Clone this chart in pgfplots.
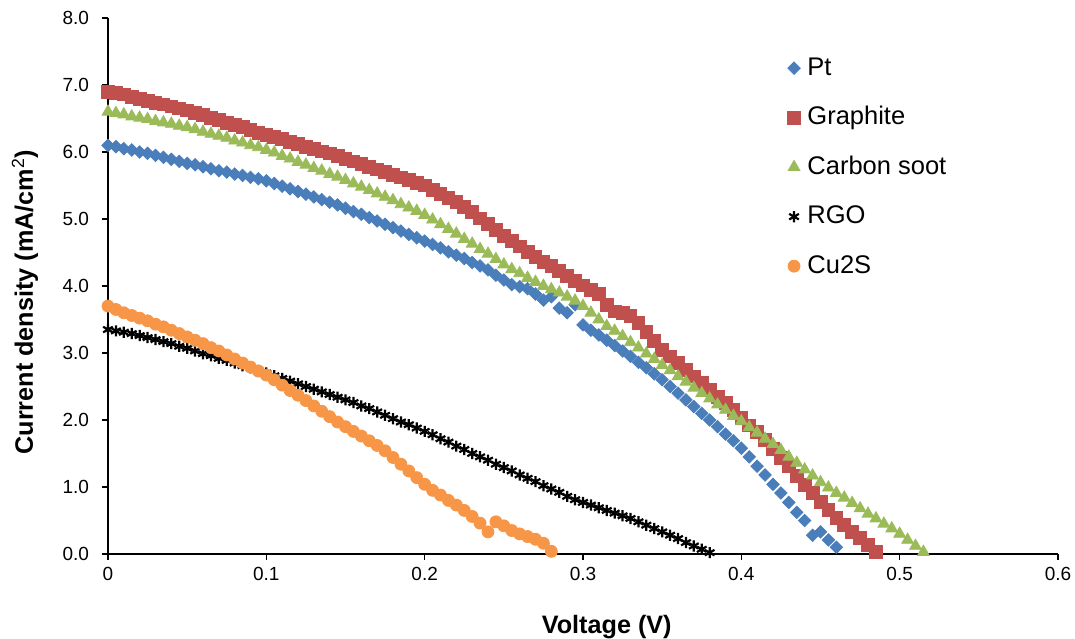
\documentclass[border=0pt]{standalone}
\usepackage{fontspec}
\setmainfont{Liberation Sans}
\usepackage{pgfplots}
\pgfplotsset{compat=1.18}
\usepackage{pgfplotstable}
\definecolor{ptblue}{RGB}{74,126,187}
\definecolor{grred}{RGB}{192,80,77}
\definecolor{csgreen}{RGB}{155,187,89}
\definecolor{cuorange}{RGB}{247,150,70}

\pgfplotstableread{
x y
0.000 6.10
0.005 6.08
0.010 6.05
0.015 6.03
0.020 6.00
0.025 5.98
0.030 5.95
0.035 5.92
0.040 5.89
0.045 5.86
0.050 5.83
0.055 5.81
0.060 5.78
0.065 5.75
0.070 5.72
0.075 5.70
0.080 5.67
0.085 5.65
0.090 5.62
0.095 5.60
0.100 5.57
0.105 5.53
0.110 5.49
0.115 5.45
0.120 5.41
0.125 5.37
0.130 5.33
0.135 5.29
0.140 5.25
0.145 5.21
0.150 5.16
0.155 5.11
0.160 5.07
0.165 5.02
0.170 4.97
0.175 4.92
0.180 4.87
0.185 4.82
0.190 4.77
0.195 4.72
0.200 4.67
0.205 4.62
0.210 4.57
0.215 4.51
0.220 4.46
0.225 4.41
0.230 4.35
0.235 4.30
0.240 4.24
0.245 4.16
0.250 4.09
0.255 4.02
0.260 3.99
0.265 3.96
0.270 3.88
0.275 3.79
0.280 3.84
0.285 3.67
0.290 3.60
0.295 3.72
0.300 3.42
0.305 3.34
0.310 3.27
0.315 3.19
0.320 3.11
0.325 3.03
0.330 2.95
0.335 2.86
0.340 2.78
0.345 2.69
0.350 2.60
0.355 2.50
0.360 2.40
0.365 2.30
0.370 2.20
0.375 2.10
0.380 2.00
0.385 1.90
0.390 1.79
0.395 1.69
0.400 1.58
0.405 1.45
0.410 1.31
0.415 1.18
0.420 1.04
0.425 0.91
0.430 0.77
0.435 0.62
0.440 0.50
0.445 0.28
0.450 0.33
0.455 0.21
0.460 0.10
}\Pt

\pgfplotstableread{
x y
0.000 6.90
0.005 6.88
0.010 6.86
0.015 6.82
0.020 6.79
0.025 6.76
0.030 6.73
0.035 6.71
0.040 6.68
0.045 6.65
0.050 6.62
0.055 6.58
0.060 6.55
0.065 6.51
0.070 6.48
0.075 6.44
0.080 6.40
0.085 6.37
0.090 6.33
0.095 6.29
0.100 6.26
0.105 6.22
0.110 6.19
0.115 6.15
0.120 6.12
0.125 6.08
0.130 6.05
0.135 6.01
0.140 5.98
0.145 5.94
0.150 5.90
0.155 5.86
0.160 5.82
0.165 5.78
0.170 5.74
0.175 5.70
0.180 5.66
0.185 5.62
0.190 5.58
0.195 5.54
0.200 5.50
0.205 5.44
0.210 5.38
0.215 5.31
0.220 5.25
0.225 5.18
0.230 5.10
0.235 5.01
0.240 4.93
0.245 4.84
0.250 4.75
0.255 4.67
0.260 4.59
0.265 4.51
0.270 4.43
0.275 4.36
0.280 4.30
0.285 4.22
0.290 4.15
0.295 4.08
0.300 4.01
0.305 3.94
0.310 3.88
0.315 3.72
0.320 3.62
0.325 3.60
0.330 3.55
0.335 3.45
0.340 3.32
0.345 3.18
0.350 3.05
0.355 2.95
0.360 2.85
0.365 2.75
0.370 2.65
0.375 2.55
0.380 2.45
0.385 2.35
0.390 2.25
0.395 2.15
0.400 2.03
0.405 1.92
0.410 1.82
0.415 1.70
0.420 1.57
0.425 1.44
0.430 1.31
0.435 1.17
0.440 1.03
0.445 0.91
0.450 0.78
0.455 0.66
0.460 0.54
0.465 0.43
0.470 0.33
0.475 0.24
0.480 0.13
0.485 0.03
}\Graphite

\pgfplotstableread{
x y
0.000 6.60
0.005 6.58
0.010 6.56
0.015 6.53
0.020 6.51
0.025 6.49
0.030 6.46
0.035 6.44
0.040 6.42
0.045 6.39
0.050 6.37
0.055 6.34
0.060 6.30
0.065 6.27
0.070 6.24
0.075 6.21
0.080 6.17
0.085 6.14
0.090 6.10
0.095 6.07
0.100 6.03
0.105 5.99
0.110 5.94
0.115 5.90
0.120 5.85
0.125 5.81
0.130 5.76
0.135 5.72
0.140 5.67
0.145 5.63
0.150 5.58
0.155 5.53
0.160 5.48
0.165 5.43
0.170 5.38
0.175 5.33
0.180 5.28
0.185 5.22
0.190 5.17
0.195 5.12
0.200 5.06
0.205 4.99
0.210 4.92
0.215 4.85
0.220 4.78
0.225 4.70
0.230 4.63
0.235 4.55
0.240 4.48
0.245 4.40
0.250 4.32
0.255 4.25
0.260 4.19
0.265 4.12
0.270 4.06
0.275 4.00
0.280 3.95
0.285 3.90
0.290 3.84
0.295 3.78
0.300 3.70
0.305 3.60
0.310 3.50
0.315 3.40
0.320 3.33
0.325 3.25
0.330 3.16
0.335 3.08
0.340 2.99
0.345 2.91
0.350 2.82
0.355 2.74
0.360 2.65
0.365 2.57
0.370 2.48
0.375 2.40
0.380 2.32
0.385 2.23
0.390 2.15
0.395 2.06
0.400 1.98
0.405 1.89
0.410 1.81
0.415 1.72
0.420 1.64
0.425 1.55
0.430 1.45
0.435 1.36
0.440 1.26
0.445 1.17
0.450 1.07
0.455 0.99
0.460 0.91
0.465 0.84
0.470 0.76
0.475 0.68
0.480 0.60
0.485 0.53
0.490 0.45
0.495 0.38
0.500 0.30
0.505 0.21
0.510 0.12
0.515 0.03
}\Soot

\pgfplotstableread{
x y
0.000 3.35
0.005 3.33
0.010 3.31
0.015 3.29
0.020 3.26
0.025 3.23
0.030 3.20
0.035 3.17
0.040 3.14
0.045 3.10
0.050 3.07
0.055 3.03
0.060 2.99
0.065 2.96
0.070 2.92
0.075 2.89
0.080 2.85
0.085 2.81
0.090 2.78
0.095 2.74
0.100 2.70
0.105 2.66
0.110 2.62
0.115 2.58
0.120 2.54
0.125 2.50
0.130 2.46
0.135 2.42
0.140 2.38
0.145 2.34
0.150 2.30
0.155 2.26
0.160 2.21
0.165 2.17
0.170 2.12
0.175 2.07
0.180 2.02
0.185 1.97
0.190 1.93
0.195 1.88
0.200 1.83
0.205 1.78
0.210 1.72
0.215 1.67
0.220 1.61
0.225 1.56
0.230 1.50
0.235 1.45
0.240 1.40
0.245 1.34
0.250 1.29
0.255 1.24
0.260 1.18
0.265 1.13
0.270 1.08
0.275 1.02
0.280 0.97
0.285 0.92
0.290 0.86
0.295 0.81
0.300 0.77
0.305 0.73
0.310 0.69
0.315 0.65
0.320 0.61
0.325 0.57
0.330 0.53
0.335 0.48
0.340 0.43
0.345 0.38
0.350 0.33
0.355 0.28
0.360 0.23
0.365 0.17
0.370 0.12
0.375 0.07
0.380 0.02
}\RGO

\pgfplotstableread{
x y
0.000 3.70
0.005 3.65
0.010 3.60
0.015 3.56
0.020 3.52
0.025 3.48
0.030 3.43
0.035 3.39
0.040 3.34
0.045 3.29
0.050 3.24
0.055 3.19
0.060 3.14
0.065 3.08
0.070 3.03
0.075 2.97
0.080 2.91
0.085 2.85
0.090 2.79
0.095 2.73
0.100 2.67
0.105 2.60
0.110 2.52
0.115 2.44
0.120 2.37
0.125 2.29
0.130 2.21
0.135 2.13
0.140 2.05
0.145 1.97
0.150 1.90
0.155 1.83
0.160 1.76
0.165 1.69
0.170 1.62
0.175 1.54
0.180 1.44
0.185 1.34
0.190 1.24
0.195 1.14
0.200 1.04
0.205 0.95
0.210 0.88
0.215 0.80
0.220 0.73
0.225 0.65
0.230 0.56
0.235 0.46
0.240 0.33
0.245 0.48
0.250 0.42
0.255 0.35
0.260 0.30
0.265 0.26
0.270 0.22
0.275 0.16
0.280 0.04
}\CuS

\begin{document}
\begin{tikzpicture}
\begin{axis}[
  scale only axis, width=475pt, height=268pt,
  xmin=0, xmax=0.6, ymin=0, ymax=8,
  axis lines=left, axis line style={-, line width=0.7pt},
  tick align=outside, major tick length=3pt, tick style={black, line width=0.7pt},
  xtick={0,0.1,0.2,0.3,0.4,0.5,0.6}, ytick={0,1,2,3,4,5,6,7,8},
  scaled x ticks=false,
  /pgf/number format/assume math mode=true,
  xticklabel style={/pgf/number format/.cd, fixed, precision=1},
  yticklabel style={xshift=-3pt, /pgf/number format/.cd, fixed, fixed zerofill, precision=1},
  tick label style={font=\fontsize{9.5}{11}\selectfont},
  xlabel={\textbf{Voltage (V)}},
  ylabel={\textbf{Current density (mA/cm\textsuperscript{\mdseries 2})}},
  every axis x label/.style={at={(axis description cs:0.525,0)}, yshift=-36.5pt, anchor=center, font=\fontsize{12.6}{15}\selectfont\bfseries},
  every axis y label/.style={at={(axis description cs:0,0.47)}, xshift=-41.5pt, rotate=90, anchor=center, font=\fontsize{12.6}{15}\selectfont\bfseries},
  clip=false,
  legend style={draw=none, fill=none, at={(axis description cs:0.715,0.937)}, anchor=north west,
    inner sep=0pt, row sep=8.75pt, column sep=1.5pt, font=\fontsize{12.75}{15}\selectfont,
    nodes={inner sep=2pt, text height=9.5pt, text depth=2.5pt}},
  legend cell align=left,
  legend image code/.code={\draw[#1] plot coordinates {(0pt,0pt)};},
]
\addplot[only marks, color=ptblue, mark=square*, mark size=2.2pt, mark options={rotate=45, draw=ptblue, fill=ptblue}] table {\Pt};
\addlegendentry{Pt}
\addplot[only marks, color=grred, mark=square*, mark size=3.2pt, mark options={draw=grred, fill=grred}] table {\Graphite};
\addlegendentry{Graphite}
\addplot[only marks, color=csgreen, mark=triangle*, mark size=3.4pt, mark options={draw=csgreen, fill=csgreen}] table {\Soot};
\addlegendentry{Carbon soot}
\addplot[only marks, color=black, mark=asterisk, mark size=2.8pt, mark options={line width=1.1pt}] table {\RGO};
\addlegendentry{RGO}
\addplot[only marks, color=cuorange, mark=*, mark size=3pt, mark options={draw=cuorange, fill=cuorange}] table {\CuS};
\addlegendentry{Cu2S}
\end{axis}
\pgfresetboundingbox
\path ([xshift=-54pt,yshift=-42.5pt]current axis.south west) rectangle ([xshift=8.5pt,yshift=9pt]current axis.north east);
\end{tikzpicture}
\end{document}
